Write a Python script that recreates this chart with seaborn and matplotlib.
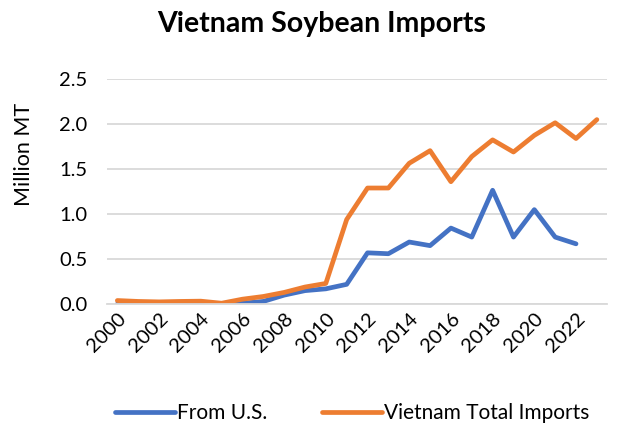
import matplotlib
matplotlib.use("Agg")
from matplotlib import pyplot as plt
import seaborn as sns
import pandas as pd

# data (million MT)
years = list(range(2000, 2024))
from_us = [0.00, 0.00, 0.00, 0.00, 0.00, 0.00, 0.01, 0.03, 0.10, 0.15, 0.17,
           0.22, 0.57, 0.56, 0.69, 0.65, 0.845, 0.745, 1.265, 0.745, 1.05,
           0.745, 0.67, None]
vn_total = [0.04, 0.03, 0.025, 0.03, 0.033, 0.01, 0.055, 0.085, 0.13, 0.19,
            0.23, 0.94, 1.29, 1.29, 1.565, 1.705, 1.36, 1.64, 1.825, 1.69,
            1.875, 2.015, 1.84, 2.05]
tick_years = list(range(2000, 2023, 2))

df = pd.DataFrame({"year": years, "From U.S.": from_us,
                   "Vietnam Total Imports": vn_total})
long_df = df.melt(id_vars="year", var_name="series", value_name="value").dropna()

sns.set_style("white")
plt.rcParams['font.family'] = ['Lato', 'DejaVu Sans']
plt.rcParams['text.color'] = 'black'
plt.rcParams['xtick.color'] = 'black'
plt.rcParams['ytick.color'] = 'black'
plt.rcParams['axes.labelcolor'] = 'black'

fig = plt.figure(figsize=(6.44, 4.23), dpi=100)
ax = fig.add_axes([0.166, 0.281, 0.777, 0.532])

sns.lineplot(data=long_df, x="year", y="value", hue="series",
             palette=["#4472C4", "#ED7D31"], linewidth=3.4, ax=ax,
             legend=True)

ax.set_xlim(1999.5, 2023.5)
ax.set_ylim(0, 2.5)
ax.set_yticks([0, 0.5, 1.0, 1.5, 2.0, 2.5])
ax.set_yticklabels([f"{v:.1f}" for v in [0, 0.5, 1.0, 1.5, 2.0, 2.5]])
ax.set_xticks(tick_years)
ax.set_xticklabels([str(y) for y in tick_years], rotation=45, ha="right",
                   rotation_mode="anchor")
ax.tick_params(axis="y", labelsize=14.5, length=0, pad=14)
ax.tick_params(axis="x", labelsize=14.5, length=0, pad=4)
ax.yaxis.grid(True, color="#d9d9d9", linewidth=1.3)
ax.set_axisbelow(True)
for s in ["top", "right", "left"]:
    ax.spines[s].set_visible(False)
ax.spines["bottom"].set_color("#d9d9d9")
ax.spines["bottom"].set_linewidth(1.3)

ax.set_xlabel("")
ax.set_ylabel("Million MT", fontsize=15.5)
ax.yaxis.set_label_coords(-0.145, 0.667)
fig.suptitle("Vietnam Soybean Imports", fontsize=20.5, fontweight="bold",
             y=0.975)

handles, labels = ax.get_legend_handles_labels()
ax.legend(handles, labels, loc="center", bbox_to_anchor=(0.49, -0.485),
          ncol=2, frameon=False, fontsize=15, handlelength=2.9,
          columnspacing=2.6, handletextpad=0.1)

fig.savefig("out.png", dpi=100)
